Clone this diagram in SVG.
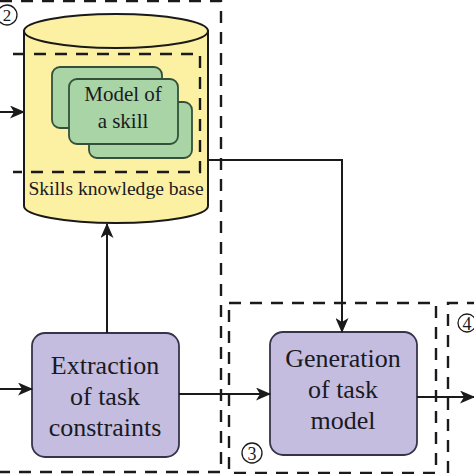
<svg xmlns="http://www.w3.org/2000/svg" width="474" height="474" viewBox="0 0 474 474">
<defs>
<style>
.t{fill:#1a1a22;text-anchor:middle}
.dash{fill:none;stroke:#1a1a1a;stroke-width:2.4;stroke-dasharray:12,9}
.ln{fill:none;stroke:#1a1a1a;stroke-width:2}
.proc{fill:#c4bde0;stroke:#35344a;stroke-width:1.8}
.card{fill:#a9d4a5;stroke:#34503a;stroke-width:1.8}
.num{fill:none;stroke:#1a1a1a;stroke-width:1.3}
</style>
<marker id="ah" markerWidth="15" markerHeight="13" refX="14" refY="6.5" orient="auto" markerUnits="userSpaceOnUse">
<path d="M0,0 L15,6.5 L0,13 L4,6.5 Z" fill="#1a1a1a"/>
</marker>
</defs>
<rect width="474" height="474" fill="#ffffff"/>
<g font-family="'Liberation Serif', Tinos, 'Times New Roman', 'DejaVu Serif', serif">

<g id="group2">
<path class="dash" d="M0,1 H221 V472 H0"/>
<circle class="num" cx="7" cy="15" r="10"/>
<text class="t" x="7" y="21" font-size="17">2</text>
</g>

<g id="knowledge-base">
<path d="M24,31 V206 A92,17 0 0 0 208,206 V31 Z" fill="#fcf0a2" stroke="#1a1a1a" stroke-width="2"/>
<ellipse cx="116" cy="31" rx="92" ry="17" fill="#fcf0a2" stroke="#1a1a1a" stroke-width="2"/>
<text class="t" x="116" y="195" font-size="19.6">Skills knowledge base</text>
</g>

<g id="skill-models">
<path class="dash" d="M13,54 H200 V172 H13" stroke-width="2.2"/>
<rect class="card" x="52" y="67" width="110" height="61" rx="8"/>
<rect class="card" x="89" y="102" width="103" height="56" rx="8"/>
<rect class="card" x="69" y="79" width="109" height="65" rx="8"/>
<text class="t" x="123" y="101" font-size="21">Model of</text>
<text class="t" x="123" y="128" font-size="21">a skill</text>
</g>

<g id="extraction">
<rect class="proc" x="32" y="333" width="147" height="124" rx="13"/>
<text class="t" x="105" y="374" font-size="26">Extraction</text>
<text class="t" x="105" y="405" font-size="26">of task</text>
<text class="t" x="105" y="436" font-size="26">constraints</text>
</g>

<g id="group3">
<path class="dash" d="M229,303 H436 V473 H229 Z"/>
<circle class="num" cx="252" cy="453" r="10"/>
<text class="t" x="252" y="459.5" font-size="18">3</text>
</g>

<g id="group4">
<path class="dash" d="M448,473 V303 H474"/>
<circle class="num" cx="467" cy="323" r="9"/>
<text class="t" x="467" y="329.5" font-size="18">4</text>
</g>

<g id="generation">
<rect class="proc" x="270" y="332" width="147" height="123" rx="13"/>
<text class="t" x="343" y="367" font-size="26">Generation</text>
<text class="t" x="343" y="398" font-size="26">of task</text>
<text class="t" x="343" y="429" font-size="26">model</text>
</g>

</g>
<g id="connectors">
<line class="ln" x1="0" y1="112" x2="24" y2="112" marker-end="url(#ah)"/>
<line class="ln" x1="0" y1="389" x2="32" y2="389" marker-end="url(#ah)"/>
<line class="ln" x1="107" y1="333" x2="107" y2="224" marker-end="url(#ah)"/>
<line class="ln" x1="179" y1="394" x2="270" y2="394" marker-end="url(#ah)"/>
<path class="ln" d="M208,160 H342 V332" marker-end="url(#ah)"/>
<line class="ln" x1="417" y1="397" x2="474" y2="397" marker-end="url(#ah)"/>
</g>
</svg>
